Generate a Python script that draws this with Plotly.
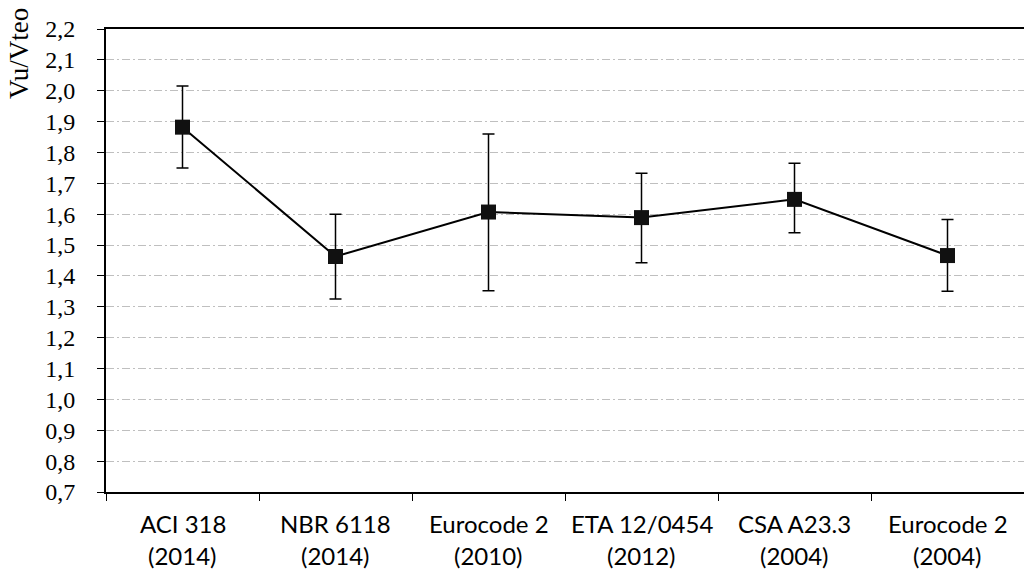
import plotly.graph_objects as go

NAMES = ["ACI 318", "NBR 6118", "Eurocode 2", "ETA 12/0454", "CSA A23.3", "Eurocode 2"]
YEARS = ["(2014)", "(2014)", "(2010)", "(2012)", "(2004)", "(2004)"]
MEAN = [1.882, 1.463, 1.607, 1.589, 1.648, 1.466]
UPPER = [2.015, 1.600, 1.860, 1.733, 1.765, 1.583]
LOWER = [1.750, 1.325, 1.352, 1.443, 1.540, 1.350]
Y_TICKS = [0.7, 0.8, 0.9, 1.0, 1.1, 1.2, 1.3, 1.4, 1.5, 1.6, 1.7, 1.8, 1.9, 2.0, 2.1, 2.2]

SERIF = "Liberation Serif, Times New Roman, serif"
SANS = "Lato, Open Sans, sans-serif"

cats = [f"{n} {y}" for n, y in zip(NAMES, YEARS)]
err_plus = [u - m for u, m in zip(UPPER, MEAN)]
err_minus = [m - l for m, l in zip(MEAN, LOWER)]

fig = go.Figure()
fig.add_trace(go.Scatter(
    x=cats,
    y=MEAN,
    mode="lines+markers",
    line=dict(color="#000000", width=2),
    marker=dict(symbol="square", size=15, color="#111111"),
    error_y=dict(
        type="data",
        symmetric=False,
        array=err_plus,
        arrayminus=err_minus,
        color="#000000",
        thickness=1.5,
        width=6,
    ),
    showlegend=False,
))

# two-line category labels, placed by hand to get the wide line spacing
for cat, name, year in zip(cats, NAMES, YEARS):
    fig.add_annotation(
        x=cat, y=-0.103, xref="x", yref="paper", text=name,
        showarrow=False, font=dict(family=SANS, size=24, color="#000000"),
    )
    fig.add_annotation(
        x=cat, y=-0.172, xref="x", yref="paper", text=year,
        showarrow=False, font=dict(family=SANS, size=24, color="#000000"),
    )

fig.add_annotation(
    x=-0.094, y=1.05, xref="paper", yref="paper", text="Vu/Vteo",
    textangle=-90, xanchor="center", yanchor="top", showarrow=False,
    font=dict(family=SERIF, size=27, color="#000000"),
)

fig.update_layout(
    width=1024,
    height=574,
    margin=dict(l=106, r=0, t=29, b=82),
    paper_bgcolor="#ffffff",
    plot_bgcolor="#ffffff",
    separators=",.",
)
fig.update_xaxes(
    type="category",
    range=[-0.5, 5.5],
    showticklabels=False,
    showgrid=False,
    showline=True,
    linecolor="#000000",
    linewidth=2,
    mirror=True,
    ticks="outside",
    tickson="boundaries",
    ticklen=7,
    tickcolor="#000000",
    tickwidth=1,
)
fig.update_yaxes(
    range=[0.7, 2.2],
    tickvals=Y_TICKS,
    tickformat=".1f",
    showgrid=True,
    gridcolor="#BFBFBF",
    gridwidth=1,
    griddash="8px,3px,2px,3px",
    zeroline=False,
    showline=True,
    linecolor="#000000",
    linewidth=2,
    ticks="outside",
    ticklen=7,
    tickcolor="#000000",
    ticklabelstandoff=17,
    tickfont=dict(family=SERIF, size=24, color="#000000"),
)

fig.write_html(
    "out.html",
    config={"displayModeBar": False},
    post_script="document.body.style.margin='0';",
)
